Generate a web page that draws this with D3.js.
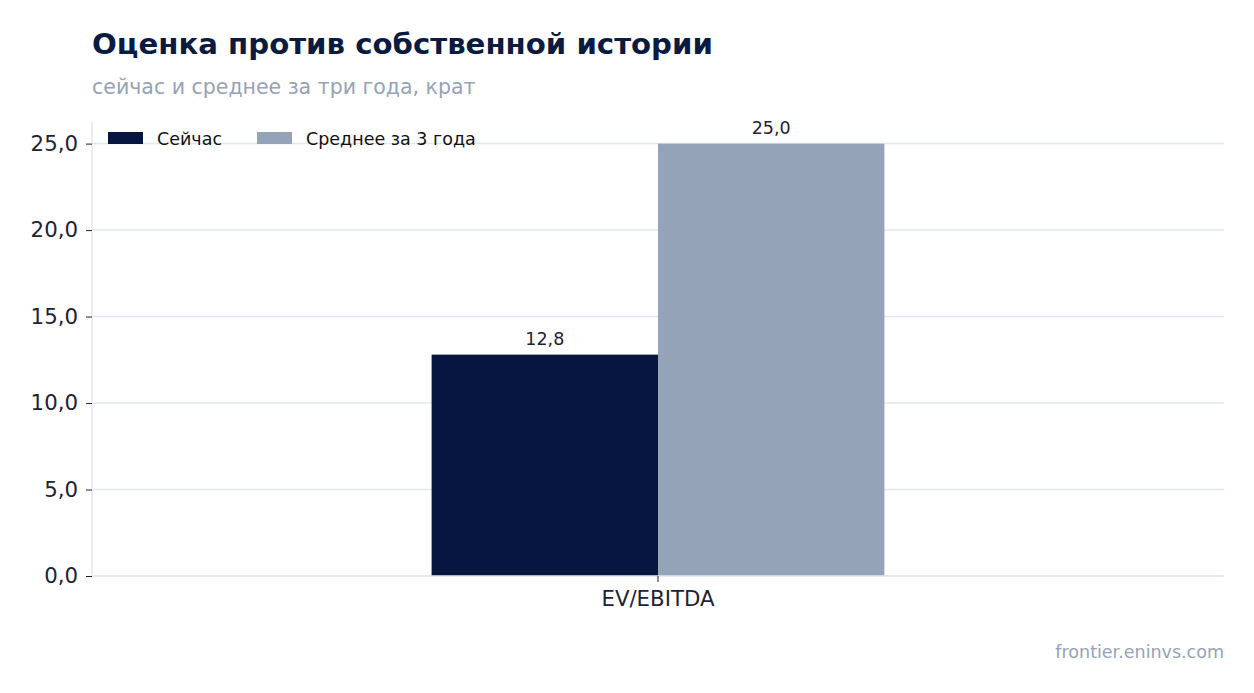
<!DOCTYPE html>
<html>
<head>
<meta charset="utf-8">
<script src="https://cdn.jsdelivr.net/npm/d3@7"></script>
<style>
  body { margin: 0; background: #fff; }
  svg { font-family: "DejaVu Sans", sans-serif; }
</style>
</head>
<body>
<svg id="chart" width="1254" height="693"></svg>
<script>
const categories = ["EV/EBITDA"];
const seriesNames = ["Сейчас", "Среднее за 3 года"];
const nowValues = [12.8];
const avgValues = [25.0];
const yTicks = [0, 5, 10, 15, 20, 25];
const colors = ["#061641", "#94a3b8"];

const fmt = v => d3.format(".1f")(v).replace(".", ",");

const width = 1254, height = 693;
const margin = { top: 122, right: 30, bottom: 117, left: 92 };
const svg = d3.select("#chart");

const x = d3.scaleBand()
    .domain(categories)
    .range([margin.left, width - margin.right])
    .paddingInner(0.6)
    .paddingOuter(0.3);

const y = d3.scaleLinear()
    .domain([0, d3.max(avgValues.concat(nowValues)) * 1.05])
    .range([height - margin.bottom, margin.top]);

const x1 = d3.scaleBand()
    .domain(seriesNames)
    .range([0, x.bandwidth()]);

// gridlines
svg.append("g")
    .selectAll("line")
    .data(yTicks)
    .join("line")
    .attr("x1", margin.left)
    .attr("x2", width - margin.right)
    .attr("y1", d => y(d))
    .attr("y2", d => y(d))
    .attr("stroke", "#e2e8f0")
    .attr("stroke-width", 1.5);

// left spine
svg.append("line")
    .attr("x1", margin.left).attr("x2", margin.left)
    .attr("y1", y.range()[1]).attr("y2", y.range()[0])
    .attr("stroke", "#e2e8f0").attr("stroke-width", 1.5);

// bars
const rows = categories.map((c, i) => ({ cat: c, values: [nowValues[i], avgValues[i]] }));
const groups = svg.append("g")
    .selectAll("g")
    .data(rows)
    .join("g")
    .attr("transform", d => `translate(${x(d.cat)},0)`);

groups.selectAll("rect")
    .data(d => d.values.map((v, j) => ({ name: seriesNames[j], value: v, j })))
    .join("rect")
    .attr("x", d => x1(d.name))
    .attr("width", x1.bandwidth())
    .attr("y", d => y(d.value))
    .attr("height", d => y(0) - y(d.value))
    .attr("fill", d => colors[d.j]);

groups.selectAll("text")
    .data(d => d.values.map((v, j) => ({ name: seriesNames[j], value: v })))
    .join("text")
    .attr("x", d => x1(d.name) + x1.bandwidth() / 2)
    .attr("y", d => y(d.value) - 10)
    .attr("text-anchor", "middle")
    .attr("font-size", 17.5)
    .attr("fill", "#1e2235")
    .text(d => fmt(d.value));

// bottom spine
svg.append("line")
    .attr("x1", margin.left).attr("x2", width - margin.right)
    .attr("y1", y(0)).attr("y2", y(0))
    .attr("stroke", "#e2e8f0").attr("stroke-width", 1.5);

// y axis
const yAxis = svg.append("g")
    .attr("transform", `translate(${margin.left},0)`)
    .call(d3.axisLeft(y).tickValues(yTicks).tickFormat(fmt).tickSize(6).tickPadding(8));
yAxis.select(".domain").remove();
yAxis.selectAll(".tick line").attr("stroke", "#1e2235");
yAxis.selectAll(".tick text")
    .attr("font-size", 21.3)
    .attr("font-family", "DejaVu Sans")
    .attr("fill", "#1e2235");

// x axis
const xAxis = svg.append("g")
    .attr("transform", `translate(0,${y(0)})`)
    .call(d3.axisBottom(x).tickSize(6).tickPadding(9));
xAxis.select(".domain").remove();
xAxis.selectAll(".tick line").attr("stroke", "#1e2235");
xAxis.selectAll(".tick text")
    .attr("font-size", 21.3)
    .attr("font-family", "DejaVu Sans")
    .attr("fill", "#1e2235");

// legend
const legendX = [108, 257];
const legend = svg.append("g")
    .selectAll("g")
    .data(seriesNames)
    .join("g")
    .attr("transform", (d, i) => `translate(${legendX[i]},132)`);
legend.append("rect")
    .attr("width", 35).attr("height", 12)
    .attr("fill", (d, i) => colors[i]);
legend.append("text")
    .attr("x", 49).attr("y", 12.5)
    .attr("font-size", 17.5)
    .attr("fill", "#111")
    .text(d => d);

// title & subtitle
svg.append("text")
    .attr("x", 92).attr("y", 54)
    .attr("font-size", 29.2)
    .attr("font-weight", "bold")
    .attr("fill", "#0a1a40")
    .text("Оценка против собственной истории");
svg.append("text")
    .attr("x", 92).attr("y", 94)
    .attr("font-size", 20.5)
    .attr("fill", "#94a3b8")
    .text("сейчас и среднее за три года, крат");

// source
svg.append("text")
    .attr("x", 1224).attr("y", 658)
    .attr("text-anchor", "end")
    .attr("font-size", 17.5)
    .attr("fill", "#94a3b8")
    .text("frontier.eninvs.com");
</script>
</body>
</html>
